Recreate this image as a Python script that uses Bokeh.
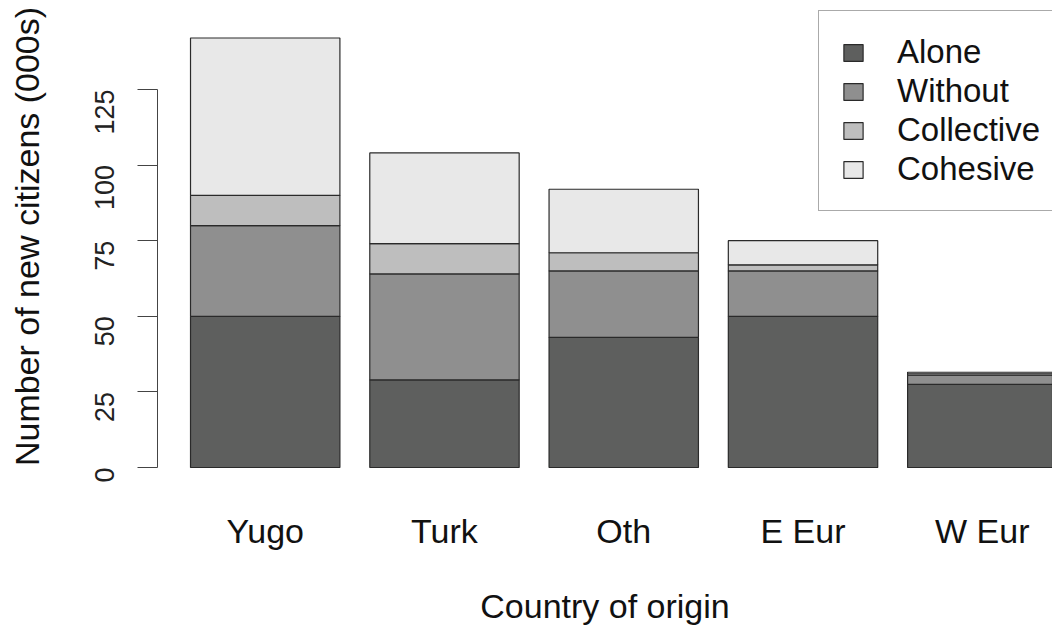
from bokeh.plotting import figure
from bokeh.models import Range1d, FixedTicker, Legend, LegendItem
from bokeh.embed import file_html
from bokeh.resources import INLINE

# New citizens (thousands) by country of origin and integration type
countries = ["Yugo", "Turk", "Oth", "E Eur", "W Eur"]
alone = [50, 29, 43, 50, 27.5]
without = [30, 35, 22, 15, 3]
collective = [10, 10, 6, 2, 0.5]
cohesive = [52, 30, 21, 8, 0.5]
y_ticks = [0, 25, 50, 75, 100, 125]

series = ["Alone", "Without", "Collective", "Cohesive"]
colors = ["#5e5f5e", "#8f8f8f", "#bebebe", "#e8e8e8"]

# bar centres as in a base-R barplot: width 1, gap 0.2
xs = [0.7 + 1.2 * i for i in range(len(countries))]

data = dict(x=xs, Alone=alone, Without=without, Collective=collective, Cohesive=cohesive)

FONT = "Liberation Sans"

p = figure(width=1052, height=628, output_backend="svg", toolbar_location=None,
           x_range=Range1d(-0.021, 5.97), y_range=Range1d(-1.65, 154.4),
           min_border_left=157, min_border_right=0, min_border_top=0, min_border_bottom=156)
p.outline_line_color = None
p.grid.visible = False
p.background_fill_color = "white"

renderers = p.vbar_stack(series, x="x", width=1.0, source=data, fill_color=colors,
                         line_color="#2a2a2a", line_width=1.2)

# y axis
ya = p.yaxis[0]
ya.ticker = FixedTicker(ticks=y_ticks)
ya.bounds = (0, 125)
ya.major_tick_out = 20
ya.major_tick_in = 0
ya.minor_tick_line_color = None
ya.axis_line_color = "#444444"
ya.major_tick_line_color = "#444444"
ya.major_label_orientation = 1.5708
ya.major_label_text_font = FONT
ya.major_label_text_font_size = "27px"
ya.major_label_text_color = "#222222"
ya.major_label_standoff = 33
ya.axis_label = "Number of new citizens (000s)"
ya.axis_label_text_font = FONT
ya.axis_label_text_font_size = "34px"
ya.axis_label_text_font_style = "normal"
ya.axis_label_text_color = "#111111"
ya.axis_label_standoff = 37

# x axis: category names under each bar, no line or ticks
xa = p.xaxis[0]
xa.ticker = FixedTicker(ticks=xs)
xa.major_label_overrides = {x: c for x, c in zip(xs, countries)}
xa.axis_line_color = None
xa.major_tick_line_color = None
xa.minor_tick_line_color = None
xa.major_label_text_font = FONT
xa.major_label_text_font_size = "34px"
xa.major_label_text_color = "#111111"
xa.major_label_standoff = 33
xa.axis_label = "Country of origin"
xa.axis_label_text_font = FONT
xa.axis_label_text_font_size = "34px"
xa.axis_label_text_font_style = "normal"
xa.axis_label_text_color = "#111111"
xa.axis_label_standoff = 34

legend = Legend(items=[LegendItem(label=s, renderers=[r]) for s, r in zip(series, renderers)],
                location=(661, 261), orientation="vertical",
                label_text_font=FONT, label_text_font_size="33px", label_text_color="#111111",
                glyph_width=24, glyph_height=21, label_height=37, label_standoff=32, spacing=1,
                padding=22, margin=0, border_line_color="#555555", border_line_width=1,
                background_fill_color="white", background_fill_alpha=1.0)
p.add_layout(legend, "center")

open("out.html", "w").write(file_html(p, INLINE))
